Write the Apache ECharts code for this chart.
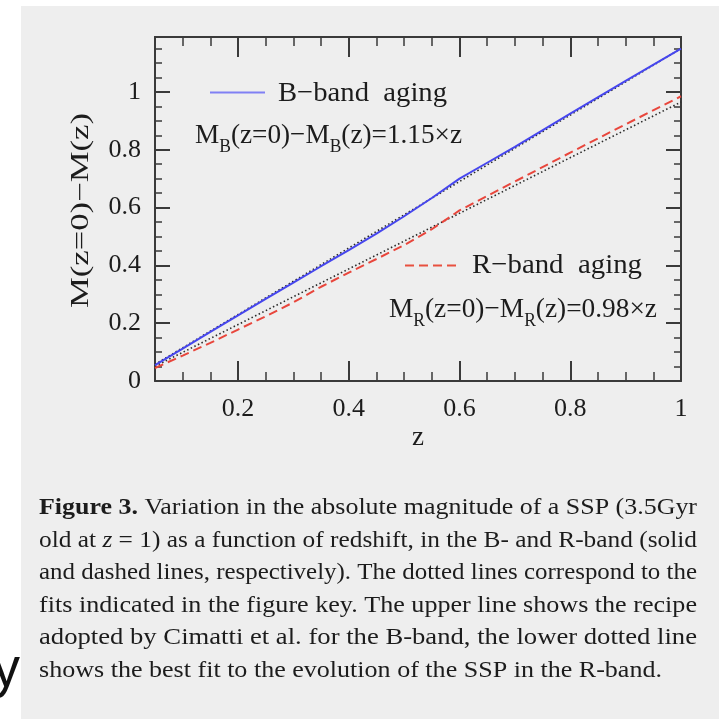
<!DOCTYPE html>
<html>
<head>
<meta charset="utf-8">
<script src="https://cdn.jsdelivr.net/npm/echarts@6/dist/echarts.min.js"></script>
<style>
html,body{margin:0;padding:0;background:#fff;}
#chart{width:719px;height:719px;}
</style>
</head>
<body>
<div id="chart"></div>
<script>
// ---- data ----
const zValues = [0.05,0.1,0.15,0.2,0.25,0.3,0.35,0.4,0.45,0.5,0.55,0.6,0.65,0.7,0.8,0.9,1.0];
const bBandAging = [0.055,0.112,0.170,0.227,0.284,0.340,0.397,0.453,0.510,0.570,0.633,0.700,0.755,0.810,0.925,1.038,1.150];
const rBandAging = [0.045,0.088,0.132,0.178,0.224,0.272,0.326,0.375,0.422,0.470,0.525,0.590,0.640,0.690,0.790,0.888,0.985];
const fitBz = [0.05, 1.0];
const fitBvalues = [0.0575, 1.15];
const fitRz = [0.05, 1.0];
const fitRvalues = [0.051, 0.965];
const xMajorTicks = [0.2,0.4,0.6,0.8,1];
const xMinorTicks = [0.1,0.15,0.25,0.3,0.35,0.45,0.5,0.55,0.65,0.7,0.75,0.85,0.9,0.95];
const yMajorTicks = [0,0.2,0.4,0.6,0.8,1];
const yMinorTicks = [0.05,0.1,0.15,0.25,0.3,0.35,0.45,0.5,0.55,0.65,0.7,0.75,0.85,0.9,0.95,1.05,1.1,1.15];
const captionLines = [
  [{t:'Figure 3.', weight:'bold'},{t:' Variation in the absolute magnitude of a SSP (3.5Gyr'}],
  [{t:'old at '},{t:'z', style:'italic'},{t:' = 1) as a function of redshift, in the B- and R-band (solid'}],
  [{t:'and dashed lines, respectively). The dotted lines correspond to the'}],
  [{t:'fits indicated in the figure key. The upper line shows the recipe'}],
  [{t:'adopted by Cimatti et al. for the B-band, the lower dotted line'}],
  [{t:'shows the best fit to the evolution of the SSP in the R-band.'}]
];
const captionWidths = [658, 658, 658, 658, 658, 623];

// ---- helpers ----
const SERIF = '"Liberation Serif", "DejaVu Serif", serif';
const TXT = '#1c1c1c';
const mctx = document.createElement('canvas').getContext('2d');
function fontOf(s, size){ return (s.style||'normal') + ' ' + (s.weight||'normal') + ' ' + (s.size||size) + 'px ' + SERIF; }
function measureSegs(segs, size){
  let w = 0;
  segs.forEach(s => { mctx.font = fontOf(s, size); w += mctx.measureText(s.t).width; });
  return w;
}
// builds a group of text pieces laid out on one line; y is the middle of the main font
function textLine(segs, size, opt){
  const total = measureSegs(segs, size);
  const scale = opt.width ? opt.width / total : 1;
  let cx = opt.center ? -total/2 : 0;
  const children = [];
  segs.forEach(s => {
    const font = fontOf(s, size);
    mctx.font = font;
    const w = mctx.measureText(s.t).width;
    children.push({type:'text', x: cx, y: s.dy || 0, silent:true,
      style:{text: s.t, font: font, fill: TXT, align:'left', verticalAlign:'middle'}});
    cx += w;
  });
  return {type:'group', x: opt.x, y: opt.y, rotation: opt.rotation || 0, scaleX: scale, children};
}

// ---- graphic annotations ----
const graphics = [];
graphics.push({type:'rect', z:-10, silent:true, shape:{x:21, y:6, width:698, height:713}, style:{fill:'#eeeeee'}});
graphics.push({type:'text', silent:true, style:{text:'y', x:20, y:698, font:'normal 55px "Liberation Sans", Arial, sans-serif', fill:'#111', align:'right', verticalAlign:'bottom'}});

// legend samples
graphics.push({type:'line', silent:true, shape:{x1:210, y1:92.5, x2:265, y2:92.5}, style:{stroke:'#8080f4', lineWidth:2}});
graphics.push({type:'line', silent:true, shape:{x1:405, y1:265.5, x2:460, y2:265.5}, style:{stroke:'#e8503f', lineWidth:2, lineDash:[9,5]}});

const SUB = 11.5;
graphics.push(textLine([{t:'B\u2212band  aging'}], 28, {x:278, y:93.5, width:169}));
graphics.push(textLine([{t:'M'},{t:'B', size:18, dy:SUB},{t:'(z=0)\u2212M'},{t:'B', size:18, dy:SUB},{t:'(z)=1.15\u00d7z'}], 28, {x:195, y:135.5, width:267}));
graphics.push(textLine([{t:'R\u2212band  aging'}], 28, {x:472, y:265.5, width:170}));
graphics.push(textLine([{t:'M'},{t:'R', size:18, dy:SUB},{t:'(z=0)\u2212M'},{t:'R', size:18, dy:SUB},{t:'(z)=0.98\u00d7z'}], 28, {x:389, y:309.5, width:268}));

// y axis title (rotated)
graphics.push(textLine([{t:'M(z=0)\u2212M(z)'}], 25, {x:81, y:210.5, rotation:Math.PI/2, width:195, center:true}));

// caption
const capSize = 24;
const capBaselines = [516, 548.5, 581, 613.5, 646, 679];
captionLines.forEach((segs, i) => {
  const yMid = capBaselines[i] - 0.3375 * capSize;
  graphics.push(textLine(segs, capSize, {x:39, y:yMid, width:captionWidths[i]}));
});

// ---- axes ----
const axisColor = '#3a3a3a';
const labelFont = {fontFamily: SERIF, fontSize: 26, color: TXT};
function xAxisDef(pos, ticks, len, labels, name){
  return {type:'value', position:pos, min:0.05, max:1, gridIndex:0,
    name: name || '', nameLocation:'middle', nameGap:43,
    nameTextStyle:{fontFamily:SERIF, fontSize:27, color:TXT},
    axisLine:{show: !!labels || pos==='top', onZero:false, lineStyle:{color:axisColor, width:2}},
    axisTick:{show:true, inside:true, length:len, customValues:ticks, lineStyle:{color:axisColor, width: len>12?2:1.5}},
    axisLabel:{show: !!labels, customValues: labels || undefined, margin:15, ...labelFont},
    splitLine:{show:false}};
}
function yAxisDef(pos, ticks, len, labels){
  return {type:'value', position:pos, min:0, max:1.19, gridIndex:0,
    axisLine:{show: !!labels || (pos==='right' && len>10), onZero:false, lineStyle:{color:axisColor, width:2}},
    axisTick:{show:true, inside:true, length:len, customValues:ticks, lineStyle:{color:axisColor, width: len>10?2:1.5}},
    axisLabel:{show: !!labels, customValues: labels || undefined, margin:14, ...labelFont},
    splitLine:{show:false}};
}

const option = {
  backgroundColor:'#ffffff',
  animation:false,
  grid:{left:155, right:38, top:37, bottom:338, containLabel:false},
  xAxis:[
    xAxisDef('bottom', xMajorTicks, 20, xMajorTicks, 'z'),
    xAxisDef('bottom', xMinorTicks, 9, null),
    xAxisDef('top', xMajorTicks, 20, null),
    xAxisDef('top', xMinorTicks, 9, null)
  ],
  yAxis:[
    yAxisDef('left', yMajorTicks, 15, yMajorTicks),
    yAxisDef('left', yMinorTicks, 7, null),
    yAxisDef('right', yMajorTicks, 15, null),
    yAxisDef('right', yMinorTicks, 7, null)
  ],
  series:[
    {type:'line', name:'B fit', data: fitBz.map((z,i)=>[z, fitBvalues[i]]), symbol:'none', z:2,
      lineStyle:{color:'#2a2a2a', width:1.6, type:[1.5,2.5]}},
    {type:'line', name:'R fit', data: fitRz.map((z,i)=>[z, fitRvalues[i]]), symbol:'none', z:2,
      lineStyle:{color:'#2a2a2a', width:1.6, type:[1.5,2.5]}},
    {type:'line', name:'B\u2212band aging', data: zValues.map((z,i)=>[z, bBandAging[i]]), symbol:'none', z:3,
      lineStyle:{color:'#4646ee', width:2}},
    {type:'line', name:'R\u2212band aging', data: zValues.map((z,i)=>[z, rBandAging[i]]), symbol:'none', z:3,
      lineStyle:{color:'#e8463c', width:2, type:[9,5]}}
  ],
  graphic: graphics
};

const chart = echarts.init(document.getElementById('chart'), null, {renderer:'canvas', width:719, height:719});
chart.setOption(option);
</script>
</body>
</html>
